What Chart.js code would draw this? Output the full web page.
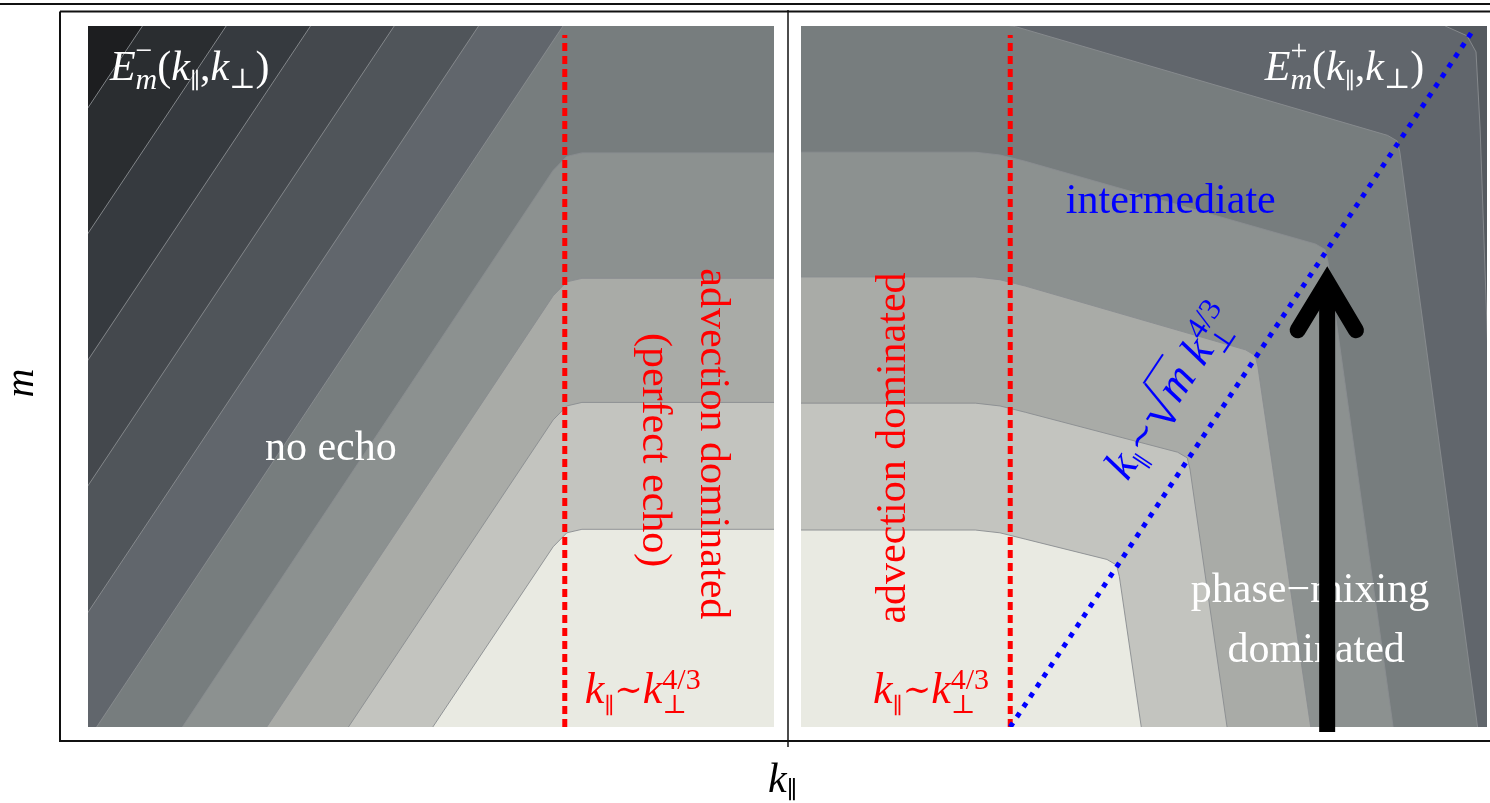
<!DOCTYPE html>
<html>
<head>
<meta charset="utf-8">
<script src="https://cdn.jsdelivr.net/npm/chart.js@4.4.1/dist/chart.umd.min.js"></script>
<style>
  html, body { margin: 0; padding: 0; background: #fff; }
  #wrap { position: relative; width: 1490px; height: 803px; overflow: hidden; }
  #wrap canvas { position: absolute; left: 0; top: 0; }
</style>
</head>
<body>
<div id="wrap">
  <canvas id="minus" width="1490" height="803"></canvas>
  <canvas id="plus" width="1490" height="803"></canvas>
</div>
<script>
// E^-_m (left) and E^+_m (right) in the (k_par, m) plane.
// Both panels run 0..100 on each axis (log k_par across, log m up).

// filled bands, darkest first
const minusBandColors = ['#1d1e20', '#2a2d30', '#363a3f', '#44484d', '#50555a', '#61666c',
  '#777d7e', '#8c9190', '#a9aba7', '#c3c4bf', '#e9eae2'];
const plusBandColors = ['#555a5f', '#61666c', '#777d7e', '#8c9190', '#a9aba7', '#c3c4bf', '#e9eae2'];

// contour lines of E^-, darkest level first
const minusContours = [
  [[-61.5, -2], [9.3, 102]],
  [[-49.3, -2], [21.5, 102]],
  [[-37.0, -2], [33.8, 102]],
  [[-24.8, -2], [46.0, 102]],
  [[-12.5, -2], [58.3, 102]],
  [[-0.1, -2], [70.6, 102]],
  [[12.4, -2], [67.8, 79.4], [69.8, 81.4], [72.0, 81.9], [102, 81.9]],
  [[24.7, -2], [67.8, 61.5], [69.8, 63.5], [72.0, 64.0], [102, 64.0]],
  [[36.6, -2], [67.8, 43.8], [69.8, 45.8], [72.0, 46.3], [102, 46.3]],
  [[48.9, -2], [67.8, 25.7], [69.8, 27.7], [72.0, 28.2], [102, 28.2]],
];

// contour lines of E^+, darkest level first
const plusContours = [
  [[92.5, 103], [93.9, 100], [97.1, 98.6], [98.4, 96.3], [99.0, 85.3], [100.6, 40], [101.3, -2]],
  [[-3, 100.6], [27.0, 100.6], [31.3, 99.9], [85.5, 84.4], [86.9, 83.6], [87.3, 82.0], [98.9, -2]],
  [[-3, 82.0], [25.4, 82.0], [29.0, 81.6], [32.7, 80.7], [75.0, 68.9], [76.4, 68.1], [76.8, 66.5], [86.6, -2]],
  [[-3, 64.2], [25.4, 64.2], [29.0, 63.8], [32.7, 62.9], [64.8, 53.8], [66.2, 53.0], [66.6, 51.4], [74.6, -2]],
  [[-3, 46.2], [25.4, 46.2], [29.0, 45.8], [32.7, 44.9], [54.9, 39.2], [56.3, 38.4], [56.7, 36.8], [62.4, -2]],
  [[-3, 28.1], [25.4, 28.1], [29.0, 27.7], [32.7, 26.8], [44.6, 23.9], [46.0, 23.1], [46.4, 21.5], [49.9, -2]],
];

const panelBox = [[-3, -3], [103, -3], [103, 103], [-3, 103]];

// k_par ~ k_perp^(4/3)
const minusEchoLine = [[69.5, 0], [69.5, 98.7]];
const plusEchoLine = [[30.5, 0], [30.5, 98.7]];
// k_par ~ sqrt(m) k_perp^(4/3)
const phaseMixLine = [[30.5, 0], [98.1, 99.6]];

// the black arrow
const arrowShaft = [[76.7, -0.7], [76.7, 63.0]];
const arrowHead = [[72.4, 56.6], [76.7, 63.5], [80.9, 56.6]];

const CONTOUR_COLOR = 'rgba(138, 141, 144, 0.9)';
const SERIF = '"Liberation Serif", "DejaVu Serif", serif';
const MATH = '"DejaVu Serif", serif';

const toPts = (arr) => arr.map(([x, y]) => ({x, y}));

function bandDatasets(contours, colors, closeOf) {
  const sets = [{
    label: `band 0`,
    data: toPts(panelBox),
    fill: `shape`,
    backgroundColor: colors[0],
    borderColor: `transparent`,
    borderWidth: 0,
    order: 300,
  }];
  contours.forEach((c, i) => {
    sets.push({
      label: `band ${i + 1}`,
      data: toPts(c.concat(closeOf(c))),
      fill: `shape`,
      backgroundColor: colors[i + 1],
      borderColor: `transparent`,
      borderWidth: 0,
      order: 299 - i,
    });
    sets.push({
      label: `contour ${i}`,
      data: toPts(c),
      fill: false,
      borderColor: CONTOUR_COLOR,
      borderWidth: 1,
      clip: 0,
      order: 100,
    });
  });
  return sets;
}

// ---- rich text: parts {t, s, it, dy, stack, over, f}
const fontOf = (p) => `${p.it ? 'italic ' : ''}${p.s}px ${p.f || SERIF}`;

function drawRich(ctx, parts, x, y, rot, align, color) {
  ctx.save();
  ctx.translate(x, y);
  ctx.rotate(rot || 0);
  ctx.fillStyle = color;
  ctx.strokeStyle = color;
  ctx.textAlign = `left`;
  ctx.textBaseline = `alphabetic`;

  let pen = 0;
  let prevStart = 0;
  const placed = [];
  parts.forEach((p) => {
    ctx.font = fontOf(p);
    const w = ctx.measureText(p.t).width;
    let sx;
    if (p.stack) {
      sx = prevStart;
      pen = Math.max(pen, sx + w);
    } else {
      sx = pen;
      pen += w;
    }
    placed.push([p, sx, w]);
    prevStart = sx;
  });

  const off = align === `center` ? -pen / 2 : (align === `right` ? -pen : 0);
  placed.forEach(([p, sx, w]) => {
    ctx.font = fontOf(p);
    ctx.fillText(p.t, off + sx, p.dy || 0);
    if (p.over) {
      ctx.lineWidth = 2;
      ctx.beginPath();
      ctx.moveTo(off + sx - 2, p.over);
      ctx.lineTo(off + sx + w, p.over);
      ctx.stroke();
    }
  });
  ctx.restore();
}

const emLabel = (sign) => [
  {t: 'E', it: 1, s: 42},
  {t: 'm', it: 1, s: 30, dy: 9},
  {t: sign, s: 30, dy: -20, stack: 1},
  {t: '(', s: 42},
  {t: 'k', it: 1, s: 42},
  {t: '∥', s: 22, dy: 8},
  {t: ',', s: 42},
  {t: 'k', it: 1, s: 42},
  {t: '⊥', s: 28, dy: 8},
  {t: ')', s: 42},
];

const redLaw = [
  {t: 'k', it: 1, s: 44},
  {t: '∥', s: 22, dy: 10},
  {t: '∼', s: 34, f: MATH, dy: -2},
  {t: 'k', it: 1, s: 44},
  {t: '⊥', s: 26, dy: 10},
  {t: '4/3', s: 30, dy: -14, stack: 1},
];

const blueLaw = [
  {t: 'k', it: 1, s: 46},
  {t: '∥', s: 22, dy: 9},
  {t: '∼', s: 36, f: MATH, dy: -2},
  {t: '√', s: 58, dy: 6},
  {t: 'm', it: 1, s: 46, over: -41},
  {t: ' ', s: 46},
  {t: 'k', it: 1, s: 46},
  {t: '⊥', s: 28, dy: 10},
  {t: '4/3', s: 31, dy: -17, stack: 1},
];

const notes = {
  minus: [
    {parts: emLabel('−'), at: [3.2, 92.3], color: '#ffffff'},
    {parts: [{t: 'no echo', s: 42}], at: [35.4, 38.1], align: 'center', color: '#ffffff'},
    {parts: [{t: 'advection dominated', s: 42}], at: [89.4, 40.4], rot: Math.PI / 2, align: 'center', color: '#ff0000'},
    {parts: [{t: '(perfect echo)', s: 42}], at: [80.9, 39.5], rot: Math.PI / 2, align: 'center', color: '#ff0000'},
    {parts: redLaw, at: [72.4, 3.4], color: '#ff0000'},
  ],
  plus: [
    {parts: emLabel('+'), at: [67.6, 92.3], color: '#ffffff'},
    {parts: [{t: 'advection dominated', s: 42}], at: [15.2, 39.8], rot: -Math.PI / 2, align: 'center', color: '#ff0000'},
    {parts: redLaw, at: [10.5, 3.4], color: '#ff0000'},
    {parts: [{t: 'intermediate', s: 42}], at: [53.9, 73.3], align: 'center', color: '#0000ff'},
    {parts: blueLaw, at: [47.6, 35.0], rot: 'line', color: '#0000ff'},
    {parts: [{t: 'phase−mixing', s: 42}], at: [74.2, 17.8], align: 'center', color: '#ffffff'},
    {parts: [{t: 'dominated', s: 42}], at: [75.1, 9.3], align: 'center', color: '#ffffff'},
  ],
};

function drawNotes(chart, list) {
  const {ctx} = chart;
  const xs = chart.scales.x;
  const ys = chart.scales.y;
  list.forEach((n) => {
    let rot = n.rot || 0;
    if (rot === 'line') {
      const [a, b] = phaseMixLine;
      rot = Math.atan2(ys.getPixelForValue(b[1]) - ys.getPixelForValue(a[1]),
        xs.getPixelForValue(b[0]) - xs.getPixelForValue(a[0]));
    }
    drawRich(ctx, n.parts, xs.getPixelForValue(n.at[0]), ys.getPixelForValue(n.at[1]), rot, n.align, n.color);
  });
}

const minusNotesPlugin = {
  id: `minusNotes`,
  afterDatasetsDraw(chart) {
    drawNotes(chart, notes.minus);
  },
  afterDraw(chart) {
    // figure frame and axis titles
    const {ctx, chartArea: a} = chart;
    const seg = (x1, y1, x2, y2) => {
      ctx.beginPath();
      ctx.moveTo(x1, y1);
      ctx.lineTo(x2, y2);
      ctx.stroke();
    };
    ctx.save();
    ctx.strokeStyle = `#111`;
    ctx.lineWidth = 2;
    seg(0, 4, chart.width, 4);
    seg(a.left - 28, 11.5, chart.width, 11.5);
    seg(a.left - 28, 11.5, a.left - 28, a.bottom + 14);
    seg(a.left - 29, a.bottom + 14, chart.width, a.bottom + 14);
    ctx.lineWidth = 1.5;
    seg(a.right + 14, 10, a.right + 14, a.bottom + 20);
    ctx.restore();

    drawRich(ctx, [{t: 'm', it: 1, s: 40}], a.left - 55, 383, -Math.PI / 2, `center`, `#000`);
    drawRich(ctx, [{t: 'k', it: 1, s: 42}, {t: '∥', s: 24, dy: 6}], a.right - 6, a.bottom + 65, 0, `left`, `#000`);
  },
};

const plusNotesPlugin = {
  id: `plusNotes`,
  afterDatasetDraw(chart, args) {
    if (chart.data.datasets[args.index].label === `k_par ~ sqrt(m) k_perp^(4/3)`) {
      drawNotes(chart, notes.plus);
    }
  },
};

function baseOptions(padding) {
  return {
    responsive: false,
    animation: false,
    events: [],
    layout: {padding},
    scales: {
      x: {type: `linear`, min: 0, max: 100, display: false},
      y: {type: `linear`, min: 0, max: 100, display: false},
    },
    elements: {
      point: {radius: 0, hoverRadius: 0, hitRadius: 0},
      line: {tension: 0},
    },
    plugins: {
      legend: {display: false},
      tooltip: {enabled: false},
    },
  };
}

const minusSets = bandDatasets(minusContours, minusBandColors,
  (c) => [[103, c[c.length - 1][1]], [103, -3], [c[0][0], -3]]);
minusSets.push({
  label: `k_par ~ k_perp^(4/3)`,
  data: toPts(minusEchoLine),
  fill: false,
  borderColor: `#ff0000`,
  borderWidth: 5,
  borderDash: [8, 5],
  clip: 0,
  order: 10,
});

const plusSets = bandDatasets(plusContours, plusBandColors,
  (c) => [[c[c.length - 1][0], -3], [-3, -3], [-3, c[0][1]]]);
plusSets.push({
  label: `k_par ~ k_perp^(4/3)`,
  data: toPts(plusEchoLine),
  fill: false,
  borderColor: `#ff0000`,
  borderWidth: 5,
  borderDash: [8, 5],
  clip: 0,
  order: 10,
});
plusSets.push({
  label: `k_par ~ sqrt(m) k_perp^(4/3)`,
  data: toPts(phaseMixLine),
  fill: false,
  borderColor: `#0000ff`,
  borderWidth: 5,
  borderDash: [5, 7],
  clip: 0,
  order: 9,
});
plusSets.push({
  label: `arrow shaft`,
  data: toPts(arrowShaft),
  fill: false,
  borderColor: `#000`,
  borderWidth: 16,
  borderCapStyle: `butt`,
  clip: false,
  order: 1,
});
plusSets.push({
  label: `arrow head`,
  data: toPts(arrowHead),
  fill: false,
  borderColor: `#000`,
  borderWidth: 16,
  borderCapStyle: `round`,
  borderJoinStyle: `miter`,
  clip: false,
  order: 0,
});

new Chart(document.getElementById(`minus`), {
  type: `line`,
  data: {datasets: minusSets},
  options: baseOptions({left: 88, right: 716, top: 26, bottom: 76}),
  plugins: [minusNotesPlugin],
});

new Chart(document.getElementById(`plus`), {
  type: `line`,
  data: {datasets: plusSets},
  options: baseOptions({left: 801, right: 3, top: 26, bottom: 76}),
  plugins: [plusNotesPlugin],
});
</script>
</body>
</html>
